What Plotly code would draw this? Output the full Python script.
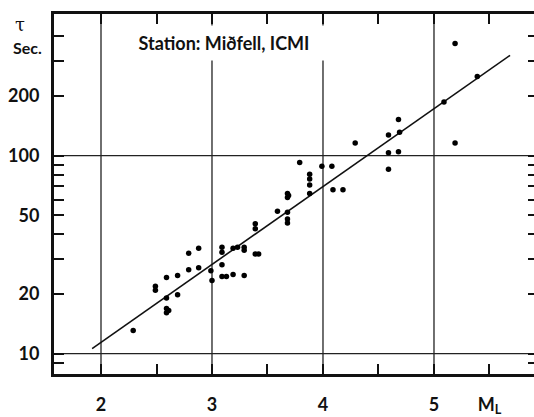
import plotly.graph_objects as go

# ---- data ----
magnitude = [2.29, 2.49, 2.49, 2.59, 2.59, 2.59, 2.59, 2.61, 2.69, 2.69,
             2.79, 2.79, 2.88, 2.88, 2.99, 3.00, 3.09, 3.09, 3.09, 3.09,
             3.13, 3.19, 3.19, 3.23, 3.29, 3.29, 3.29, 3.39, 3.42, 3.39,
             3.39, 3.59, 3.68, 3.68, 3.68, 3.68, 3.68, 3.69, 3.79, 3.88,
             3.88, 3.88, 3.88, 3.99, 4.08, 4.09, 4.18, 4.29, 4.59, 4.59,
             4.59, 4.68, 4.69, 4.68, 5.09, 5.19, 5.19, 5.39]
tau = [13.1, 21.9, 20.9, 24.2, 19.1, 16.9, 16.1, 16.5, 24.8, 19.8,
       32.1, 26.5, 34.0, 27.1, 26.2, 23.4, 34.4, 32.5, 28.1, 24.5,
       24.5, 25.1, 34.0, 34.4, 34.4, 33.3, 24.8, 31.8, 31.8, 45.2,
       42.7, 52.4, 51.8, 47.8, 45.7, 64.3, 61.4, 62.8, 92.4, 80.6,
       76.2, 71.1, 64.3, 88.3, 88.3, 67.3, 67.3, 115.9, 126.9, 103.5,
       85.3, 152.1, 131.3, 104.6, 186.6, 368.6, 115.9, 250.6]

fit_ml = [1.92, 5.685]
fit_tau = [10.6, 321.0]

x_tickvals = [2, 2.5, 3, 3.5, 4, 4.5, 5, 5.5]
x_ticktext = ["2", "", "3", "", "4", "", "5", "M<sub>L</sub>"]
y_tickvals = [9, 10, 20, 30, 40, 50, 60, 70, 80, 90, 100, 200, 300, 400]
y_ticktext = ["", "10", "20", "", "", "50", "", "", "", "", "100", "200", "", ""]
grid_ml = [2, 3, 4, 5]
grid_tau = [10, 100]

station_label = "Station: Miðfell, ICMI"

# ---- figure ----
W, H = 534, 417
L, R, T, B = 54, 0, 14, 34
FONT = "Lato"
X_RANGE = [1.5766, 5.901]
Y_RANGE = [0.897, 2.715]

fig = go.Figure()

fig.add_trace(go.Scatter(
    x=fit_ml, y=fit_tau, mode="lines",
    line=dict(color="#111111", width=1.6),
    showlegend=False, hoverinfo="skip"))

fig.add_trace(go.Scatter(
    x=magnitude, y=tau, mode="markers",
    marker=dict(color="#000000", size=5.5, line=dict(width=0)),
    showlegend=False))

# helper trace for the right-hand tick axis
fig.add_trace(go.Scatter(x=[], y=[], yaxis="y2", showlegend=False,
                         hoverinfo="skip"))

shapes = []
for g in grid_ml:
    shapes.append(dict(type="line", xref="x", yref="paper", x0=g, x1=g,
                       y0=0, y1=1, line=dict(color="#222222", width=1.3),
                       layer="below"))
for g in grid_tau:
    shapes.append(dict(type="line", xref="paper", yref="y", x0=0, x1=1,
                       y0=g, y1=g, line=dict(color="#222222", width=1.3),
                       layer="below"))

pw = W - L - R
ph = H - T - B


def px_to_paper(px, py):
    return (px - L) / pw, (H - B - py) / ph


annotations = []
sx, sy = px_to_paper(224, 44)
annotations.append(dict(
    text=station_label, xref="paper", yref="paper", x=sx, y=sy,
    xanchor="center", yanchor="middle", showarrow=False,
    font=dict(family=FONT, size=18, color="#111111", weight="bold"),
    bgcolor="white", width=206, height=24, borderpad=5))
tx, ty = px_to_paper(20, 25)
annotations.append(dict(
    text="τ", xref="paper", yref="paper", x=tx, y=ty,
    xanchor="center", yanchor="middle", showarrow=False,
    font=dict(family="DejaVu Serif", size=18, color="#111111")))
ex, ey = px_to_paper(27, 48)
annotations.append(dict(
    text="Sec.", xref="paper", yref="paper", x=ex, y=ey,
    xanchor="center", yanchor="middle", showarrow=False,
    font=dict(family=FONT, size=16, color="#111111", weight="bold")))

fig.update_layout(
    width=W, height=H,
    margin=dict(l=L, r=R, t=T, b=B, pad=0),
    paper_bgcolor="white", plot_bgcolor="white",
    shapes=shapes, annotations=annotations,
    xaxis=dict(
        range=X_RANGE, tickvals=x_tickvals, ticktext=x_ticktext,
        showgrid=False, zeroline=False,
        showline=True, linecolor="#111111", linewidth=3, mirror="ticks",
        ticks="inside", ticklen=10, tickwidth=1.5, tickcolor="#111111",
        ticklabelstandoff=12,
        tickfont=dict(family=FONT, size=18, color="#111111", weight="bold"),
        fixedrange=True),
    yaxis=dict(
        type="log", range=Y_RANGE, tickvals=y_tickvals, ticktext=y_ticktext,
        showgrid=False, zeroline=False,
        showline=True, linecolor="#111111", linewidth=3, mirror=False,
        ticks="inside", ticklen=10, tickwidth=1.5, tickcolor="#111111",
        ticklabelstandoff=8,
        tickfont=dict(family=FONT, size=18, color="#111111", weight="bold"),
        fixedrange=True),
    yaxis2=dict(
        type="log", range=Y_RANGE, overlaying="y", side="right",
        tickvals=y_tickvals, showticklabels=False,
        showgrid=False, zeroline=False, showline=False,
        ticks="inside", ticklen=6, tickwidth=1.5, tickcolor="#111111",
        fixedrange=True),
)

fig.write_html("out.html")
